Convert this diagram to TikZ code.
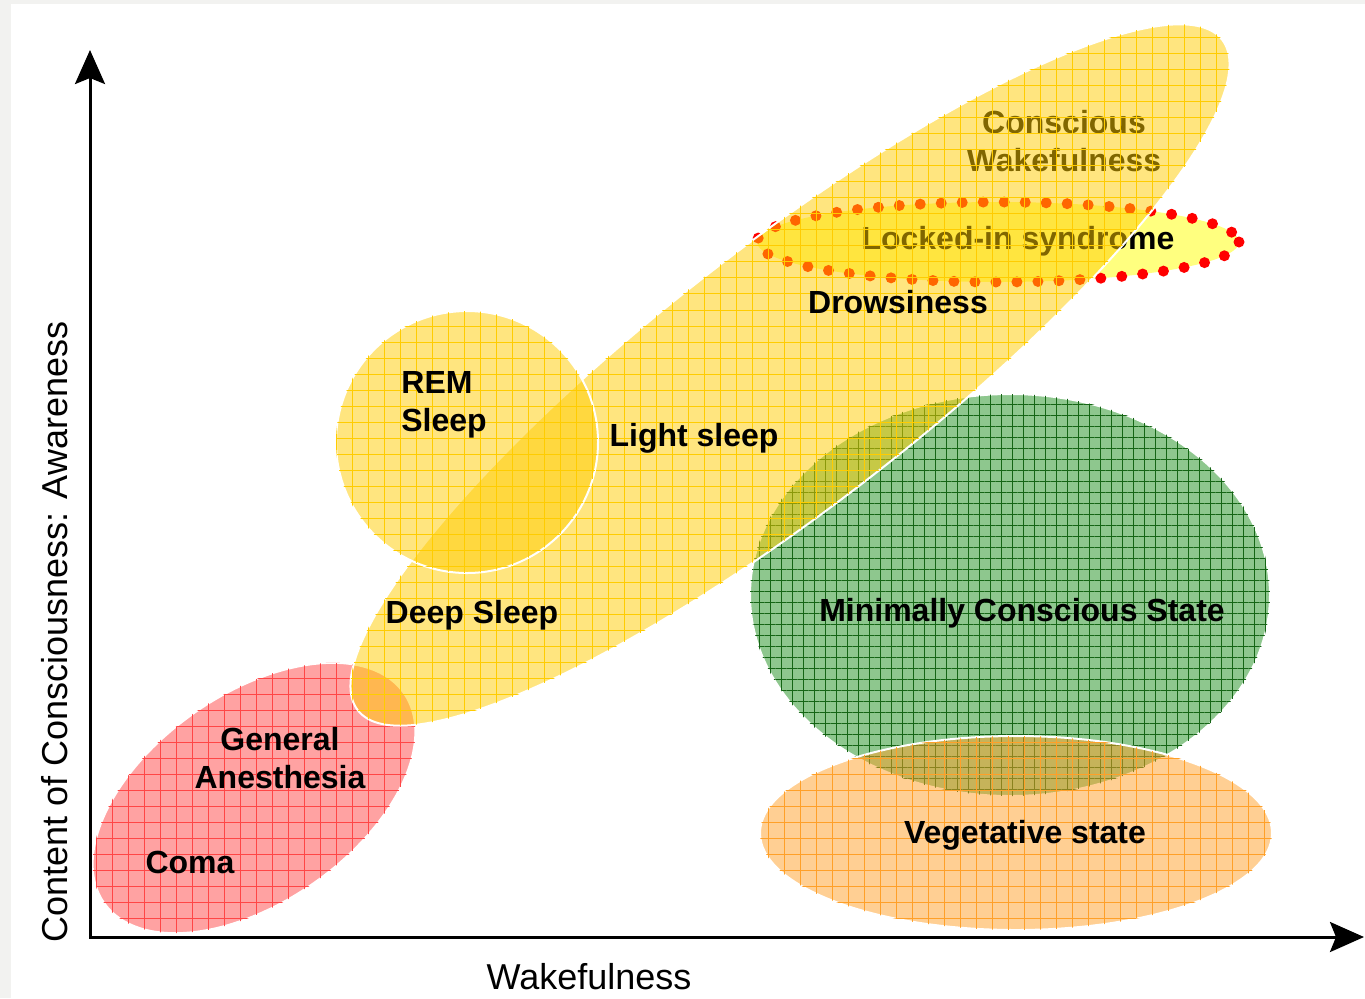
\documentclass[tikz,border=0pt]{standalone}
\usepackage{fontspec}
\setmainfont{Liberation Sans}
\usetikzlibrary{positioning, arrows.meta, patterns.meta}
\definecolor{paper}{RGB}{242,242,240}
\definecolor{wakegold}{RGB}{255,204,0}
\definecolor{comared}{RGB}{255,70,70}
\definecolor{mcsgreen}{RGB}{30,145,30}
\definecolor{vsorange}{RGB}{255,160,40}
\definecolor{lockedyellow}{RGB}{255,255,0}
\def\gridsep{8pt}
\tikzset{gridded/.style 2 args={postaction={draw=none, fill opacity=0.45, pattern={Hatch[angle=0,distance=#2,line width=0.5pt]}, pattern color=#1}}}
\tikzstyle{region}=[draw=white, line width=1pt, fill opacity=0.5]
\tikzstyle{coma region}=[region, fill=comared, gridded={comared}{\gridsep}]
\tikzstyle{mcs region}=[region, fill=mcsgreen, gridded={mcsgreen!70!black}{5.5pt}]
\tikzstyle{vs region}=[region, fill=vsorange, gridded={vsorange}{\gridsep}]
\tikzstyle{wake region}=[region, fill=wakegold, gridded={wakegold}{\gridsep}]
\tikzstyle{locked region}=[fill=lockedyellow, fill opacity=0.5, draw=red, line width=5.5pt, line cap=round, dash pattern=on 0pt off 10.5pt]
\tikzstyle{label}=[inner sep=0pt, font=\bfseries\fontsize{16}{19}\selectfont]
\tikzstyle{axis label}=[inner sep=0pt, font=\fontsize{18}{21}\selectfont]
\tikzstyle{axis}=[line width=1.5pt, {Stealth[length=17pt,width=15pt,inset=3pt]}-{Stealth[length=17pt,width=15pt,inset=3pt]}]

\begin{document}
\begin{tikzpicture}[x=0.5pt, y=-0.5pt]
		\useasboundingbox (0,0) rectangle (1365,998);
		\fill[paper] (0,0) rectangle (1365,998);
		\fill[white] (11,4) rectangle (1365,998);

		\path[coma region, shift={(254,798)}, rotate=35] (0,0) ellipse (183 and 104);
		\path[mcs region] (1010,595) ellipse (260 and 201);
		\path[vs region] (1016,833) ellipse (256 and 97);
		\path[locked region] (998,242) ellipse (241 and 40);
		\node[label] (LIS) at (1018,241) {Locked-in syndrome};
		\node[label, align=center] (CW) at (1064,141) {Conscious\\Wakefulness};
		\path[wake region, shift={(790,375)}, rotate=37.8] (0,0) ellipse (547 and 130);
		\path[wake region] (467,442) circle (131);

		\node[label] (D) at (898,302) {Drowsiness};
		\node[label] (LS) at (694,438) {Light sleep};
		\node[label, align=left, anchor=west] (REM) at (401,405) {REM\\Sleep};
		\node[label] (DS) at (472,615) {Deep Sleep};
		\node[label, align=center] (GA) at (280,758) {General\\Anesthesia};
		\node[label] (C) at (190,862) {Coma};
		\node[label] (MCS) at (1022,613) {Minimally Conscious State};
		\node[label] (VS) at (1025,835) {Vegetative state};

		\coordinate (O) at (90,937);
		\coordinate (Y) at (90,50);
		\coordinate (X) at (1364,937);
		\draw[axis] (Y) -- (O) -- (X);
		\node[axis label] (XL) at (589,977) {Wakefulness};
		\node[axis label, rotate=90] (YL) at (55,632) {Content of Consciousness: Awareness};
	\end{tikzpicture}
\end{document}
